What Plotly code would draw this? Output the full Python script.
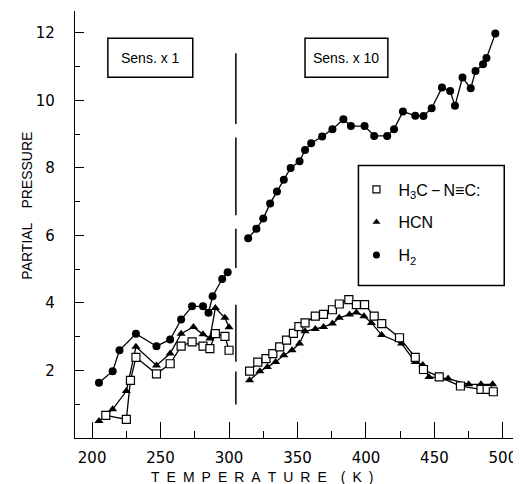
import plotly.graph_objects as go

# ---------------- data ----------------
# Sens. x 1 region
H2_T_LEFT = [205, 215, 220, 232, 247, 257, 265, 273, 281, 285, 288, 295, 299]
H2_P_LEFT = [1.64, 1.98, 2.60, 3.09, 2.72, 2.92, 3.51, 3.90, 3.90, 3.71, 4.20, 4.71, 4.91]

HCN_T_LEFT = [205, 215, 225, 232, 247, 257, 265, 274, 281, 286, 290, 297, 300]
HCN_P_LEFT = [0.50, 0.85, 1.39, 2.70, 2.15, 2.50, 3.09, 3.29, 3.07, 2.95, 3.85, 3.56, 3.28]

MIC_T_LEFT = [210, 225, 228, 232, 247, 257, 265, 273, 281, 286, 290, 297, 300]
MIC_P_LEFT = [0.67, 0.55, 1.71, 2.39, 1.90, 2.20, 2.72, 2.85, 2.72, 2.65, 3.09, 3.01, 2.60]

# Sens. x 10 region
H2_T_RIGHT = [314, 320, 325, 330, 335, 340, 345, 351.5, 355.5, 360, 368, 375.5, 383.5, 389,
              399, 406, 415.5, 420.5, 427, 436, 442, 448, 455.5, 461.5, 465, 470.5, 476.5,
              480, 485.5, 488, 494.5]
H2_P_RIGHT = [5.92, 6.2, 6.5, 6.95, 7.3, 7.65, 8.0, 8.2, 8.53, 8.73, 8.93, 9.15, 9.44, 9.24,
              9.24, 8.95, 8.95, 9.15, 9.67, 9.55, 9.54, 9.77, 10.38, 10.28, 9.84, 10.68, 10.36,
              10.87, 11.07, 11.26, 11.98]

HCN_T_RIGHT = [315, 322.5, 328, 334, 340, 346, 351.5, 355.5, 363, 369, 375.5, 380.5, 388, 393,
               398.5, 404, 411.5, 426, 436, 441.5, 446, 460, 475, 484, 492.5]
HCN_P_RIGHT = [1.71, 1.98, 2.10, 2.25, 2.45, 2.60, 2.80, 3.16, 3.23, 3.29, 3.39, 3.56, 3.66, 3.72,
               3.61, 3.41, 3.05, 2.80, 2.25, 2.16, 1.81, 1.76, 1.59, 1.59, 1.59]

MIC_T_RIGHT = [315, 321, 327, 332, 337, 342, 347, 351, 355.5, 363, 369, 375.5, 380.5, 387.5, 393,
               399, 406, 411.5, 424.5, 436, 442, 453.5, 469, 484, 488.5, 493]
MIC_P_RIGHT = [1.98, 2.25, 2.35, 2.50, 2.70, 2.90, 3.10, 3.30, 3.41, 3.61, 3.66, 3.80, 3.97, 4.10,
               3.95, 3.95, 3.61, 3.39, 2.97, 2.39, 2.03, 1.81, 1.54, 1.44, 1.44, 1.37]

SERIES_NAMES = ["H<sub>3</sub>C\u2009\u2212\u2009N\u2261C:", "HCN", "H<sub>2</sub>"]

X_TICKS = [200, 250, 300, 350, 400, 450, 500]
Y_TICKS = [2, 4, 6, 8, 10, 12]

DIVIDER_T = 305
DIVIDER_SEGMENTS = [(11.4, 9.3), (8.9, 6.6), (6.2, 5.04), (3.95, 2.26), (1.97, 0.99)]

BOX_LABELS = ["Sens. x 1", "Sens. x 10"]

# ---------------- layout constants ----------------
X_RANGE = [187.5, 512.5]
Y_RANGE = [0, 12.65]
BOXES = [(211.5, 273.5, 10.69, 11.84), (355.5, 416, 10.69, 11.84)]
LEGEND_FRAME = (394.5, 501, 4.52, 8.07)

FONT = "Liberation Sans, Arial, sans-serif"
BLACK = "black"
# the page body has an 8px margin; the figure is sized so that the plot area
# lands on the same pixels as the reference
PAGE_OFFSET = 8


def join(a, b):
    return a + [None] + b


fig = go.Figure()

marker_styles = [
    dict(symbol="square", size=8, color="white", line=dict(width=1.2, color=BLACK)),
    dict(symbol="triangle-up", size=8, color=BLACK),
    dict(symbol="circle", size=8, color=BLACK),
]
series = [
    (join(MIC_T_LEFT, MIC_T_RIGHT), join(MIC_P_LEFT, MIC_P_RIGHT)),
    (join(HCN_T_LEFT, HCN_T_RIGHT), join(HCN_P_LEFT, HCN_P_RIGHT)),
    (join(H2_T_LEFT, H2_T_RIGHT), join(H2_P_LEFT, H2_P_RIGHT)),
]

# draw H2 first, then HCN, then squares on top
for idx in [2, 1, 0]:
    xs, ys = series[idx]
    fig.add_trace(go.Scatter(
        x=xs, y=ys, mode="lines+markers",
        line=dict(color=BLACK, width=1.3),
        marker=marker_styles[idx], showlegend=False, connectgaps=False, hoverinfo="skip",
    ))

# legend entries (marker only)
for idx, name in enumerate(SERIES_NAMES):
    ms = dict(marker_styles[idx])
    ms["size"] = 7
    fig.add_trace(go.Scatter(
        x=[None], y=[None], mode="markers", name=name, marker=ms,
        legendgroup=str(idx), showlegend=True,
    ))

# dashed divider
dx, dy = [], []
for top, bot in DIVIDER_SEGMENTS:
    dx += [DIVIDER_T, DIVIDER_T, None]
    dy += [top, bot, None]
fig.add_trace(go.Scatter(x=dx, y=dy, mode="lines", line=dict(color=BLACK, width=1.5),
                         showlegend=False, hoverinfo="skip"))

shapes = []
annotations = []
for (x0, x1, y0, y1), label in zip(BOXES, BOX_LABELS):
    shapes.append(dict(type="rect", xref="x", yref="y", x0=x0, x1=x1, y0=y0, y1=y1,
                       line=dict(color=BLACK, width=1.5), fillcolor="white", layer="above"))
    annotations.append(dict(x=(x0 + x1) / 2, y=(y0 + y1) / 2, xref="x", yref="y", text=label,
                            showarrow=False, font=dict(family=FONT, size=14, color=BLACK)))

lx0, lx1, ly0, ly1 = LEGEND_FRAME
shapes.append(dict(type="rect", xref="x", yref="y", x0=lx0, x1=lx1, y0=ly0, y1=ly1,
                   line=dict(color=BLACK, width=1.5), fillcolor="rgba(0,0,0,0)", layer="above"))

sp = "\u2002"
annotations.append(dict(x=0.42, y=-0.092, xref="paper", yref="paper",
                        text=sp.join(list("TEMPERATURE")) + sp + sp + sp.join(list("(K)")),
                        showarrow=False, font=dict(family=FONT, size=14, color=BLACK),
                        xanchor="center", yanchor="middle"))
annotations.append(dict(x=-0.107, y=0.545, xref="paper", yref="paper",
                        text="PARTIAL\u2002\u2002PRESSURE", textangle=-90,
                        showarrow=False, font=dict(family=FONT, size=14, color=BLACK),
                        xanchor="center", yanchor="middle"))

axis_common = dict(showline=True, linecolor=BLACK, linewidth=1.4, showgrid=False,
                   zeroline=False, tickcolor=BLACK, tickwidth=1.2)

fig.update_layout(
    width=521 - PAGE_OFFSET, height=484 - PAGE_OFFSET,
    margin=dict(l=75 - PAGE_OFFSET, r=1, t=11 - PAGE_OFFSET, b=46),
    paper_bgcolor="white", plot_bgcolor="white",
    font=dict(family=FONT, color=BLACK),
    xaxis=dict(range=X_RANGE, tickvals=X_TICKS, ticks="inside", ticklen=16,
               minor=dict(dtick=25, tick0=200, ticks="inside", ticklen=7, tickcolor=BLACK),
               tickfont=dict(family="DejaVu Sans", size=15, color=BLACK),
               ticklabelstandoff=6, **axis_common),
    yaxis=dict(range=Y_RANGE, tickvals=Y_TICKS, ticks="inside", ticklen=9,
               minor=dict(dtick=1, tick0=0, ticks="inside", ticklen=5, tickcolor=BLACK),
               tickfont=dict(family="DejaVu Sans", size=15, color=BLACK),
               ticklabelstandoff=16, **axis_common),
    xaxis2=dict(range=X_RANGE, overlaying="x", side="top", dtick=25, tick0=200,
                ticks="inside", ticklen=8, showticklabels=False, **axis_common),
    yaxis2=dict(range=Y_RANGE, overlaying="y", side="right", dtick=1, tick0=0,
                ticks="inside", ticklen=7, showticklabels=False, **axis_common),
    legend=dict(x=0.628, y=0.622, xanchor="left", yanchor="top",
                bgcolor="rgba(0,0,0,0)", borderwidth=0,
                font=dict(family=FONT, size=16, color=BLACK),
                tracegroupgap=9, itemwidth=34),
    shapes=shapes, annotations=annotations,
)

fig.write_html("out.html")
